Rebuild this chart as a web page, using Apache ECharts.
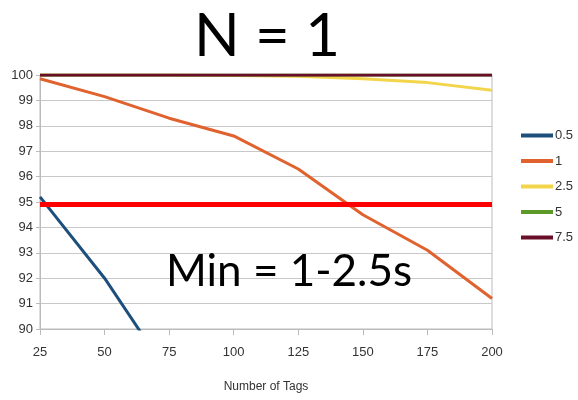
<!DOCTYPE html>
<html>
<head>
<meta charset="utf-8">
<script src="https://cdn.jsdelivr.net/npm/echarts@6/dist/echarts.min.js"></script>
<style>
  html, body { margin: 0; padding: 0; background: #fff; }
  #chart { width: 578px; height: 400px; }
</style>
</head>
<body>
<div id="chart"></div>
<script>
// Number of tags along the x axis
const tagCounts = ['25', '50', '75', '100', '125', '150', '175', '200'];

// Percentage values per timeout setting
const seriesNames = ['0.5', '1', '2.5', '5', '7.5'];
const s05 = [95.2, 92.0, 88.2, 84.5, 80.8, 77.0, 73.5, 70.0];
const s1 = [99.85, 99.15, 98.3, 97.6, 96.3, 94.5, 93.1, 91.2];
const s25 = [100, 100, 100, 99.98, 99.95, 99.85, 99.7, 99.4];
const s5 = [100, 100, 100, 100, 100, 100, 100, 100];
const s75 = [100, 100, 100, 100, 100, 100, 100, 100];

// Y axis ticks
const yMin = 90, yMax = 100, yStep = 1;

// Threshold level
const threshold = 94.9;

const colors = ['#1d4f7c', '#e0622e', '#f2d54a', '#5d9a2a', '#6a0f2a'];
const values = [s05, s1, s25, s5, s75];

const axisFont = 'Liberation Sans';

const chart = echarts.init(document.getElementById('chart'));

const series = seriesNames.map((name, i) => ({
  name: name,
  type: 'line',
  data: values[i],
  symbol: 'none',
  clip: true,
  lineStyle: { width: 3, color: colors[i] },
  itemStyle: { color: colors[i] },
  z: 2 + i
}));

// Red threshold line
series[0].markLine = {
  silent: true,
  symbol: 'none',
  label: { show: false },
  lineStyle: { color: '#ff0000', width: 5, type: 'solid' },
  data: [{ yAxis: threshold }],
  z: 10
};

chart.setOption({
  backgroundColor: '#ffffff',
  animation: false,
  title: {
    text: 'N = 1',
    left: 262,
    top: 2,
    textAlign: 'center',
    textStyle: { fontFamily: 'Lato', fontWeight: 'normal', fontSize: 60, color: '#000' }
  },
  graphic: [{
    type: 'text',
    left: 166,
    top: 250,
    z: 20,
    style: { text: 'Min = 1-2.5s', font: '44px Lato', fill: '#000' }
  }],
  grid: { left: 40, right: 86, top: 75, bottom: 71, show: true, borderColor: '#bbb', borderWidth: 1 },
  legend: {
    orient: 'vertical',
    left: 516,
    top: 124,
    itemGap: 12.5,
    itemWidth: 32,
    itemHeight: 4,
    icon: 'rect',
    data: seriesNames,
    textStyle: { fontFamily: axisFont, fontSize: 13, color: '#333', padding: [0, 0, 0, -3] }
  },
  xAxis: {
    type: 'category',
    data: tagCounts,
    boundaryGap: false,
    name: 'Number of Tags',
    nameLocation: 'middle',
    nameGap: 52,
    nameTextStyle: { fontFamily: axisFont, fontSize: 12, color: '#333' },
    axisLine: { lineStyle: { color: '#bbb' } },
    axisTick: { show: true, alignWithLabel: true, length: 6, lineStyle: { color: '#bbb' } },
    axisLabel: { fontFamily: axisFont, fontSize: 13, color: '#333', margin: 17 },
    splitLine: { show: false }
  },
  yAxis: {
    type: 'value',
    min: yMin,
    max: yMax,
    interval: yStep,
    axisLine: { show: true, lineStyle: { color: '#bbb' } },
    axisTick: { show: true, length: 4, lineStyle: { color: '#bbb' } },
    axisLabel: { fontFamily: axisFont, fontSize: 13, color: '#333', margin: 7 },
    splitLine: { show: true, lineStyle: { color: '#c8c8c8', width: 1 } }
  },
  series: series
});
</script>
</body>
</html>
